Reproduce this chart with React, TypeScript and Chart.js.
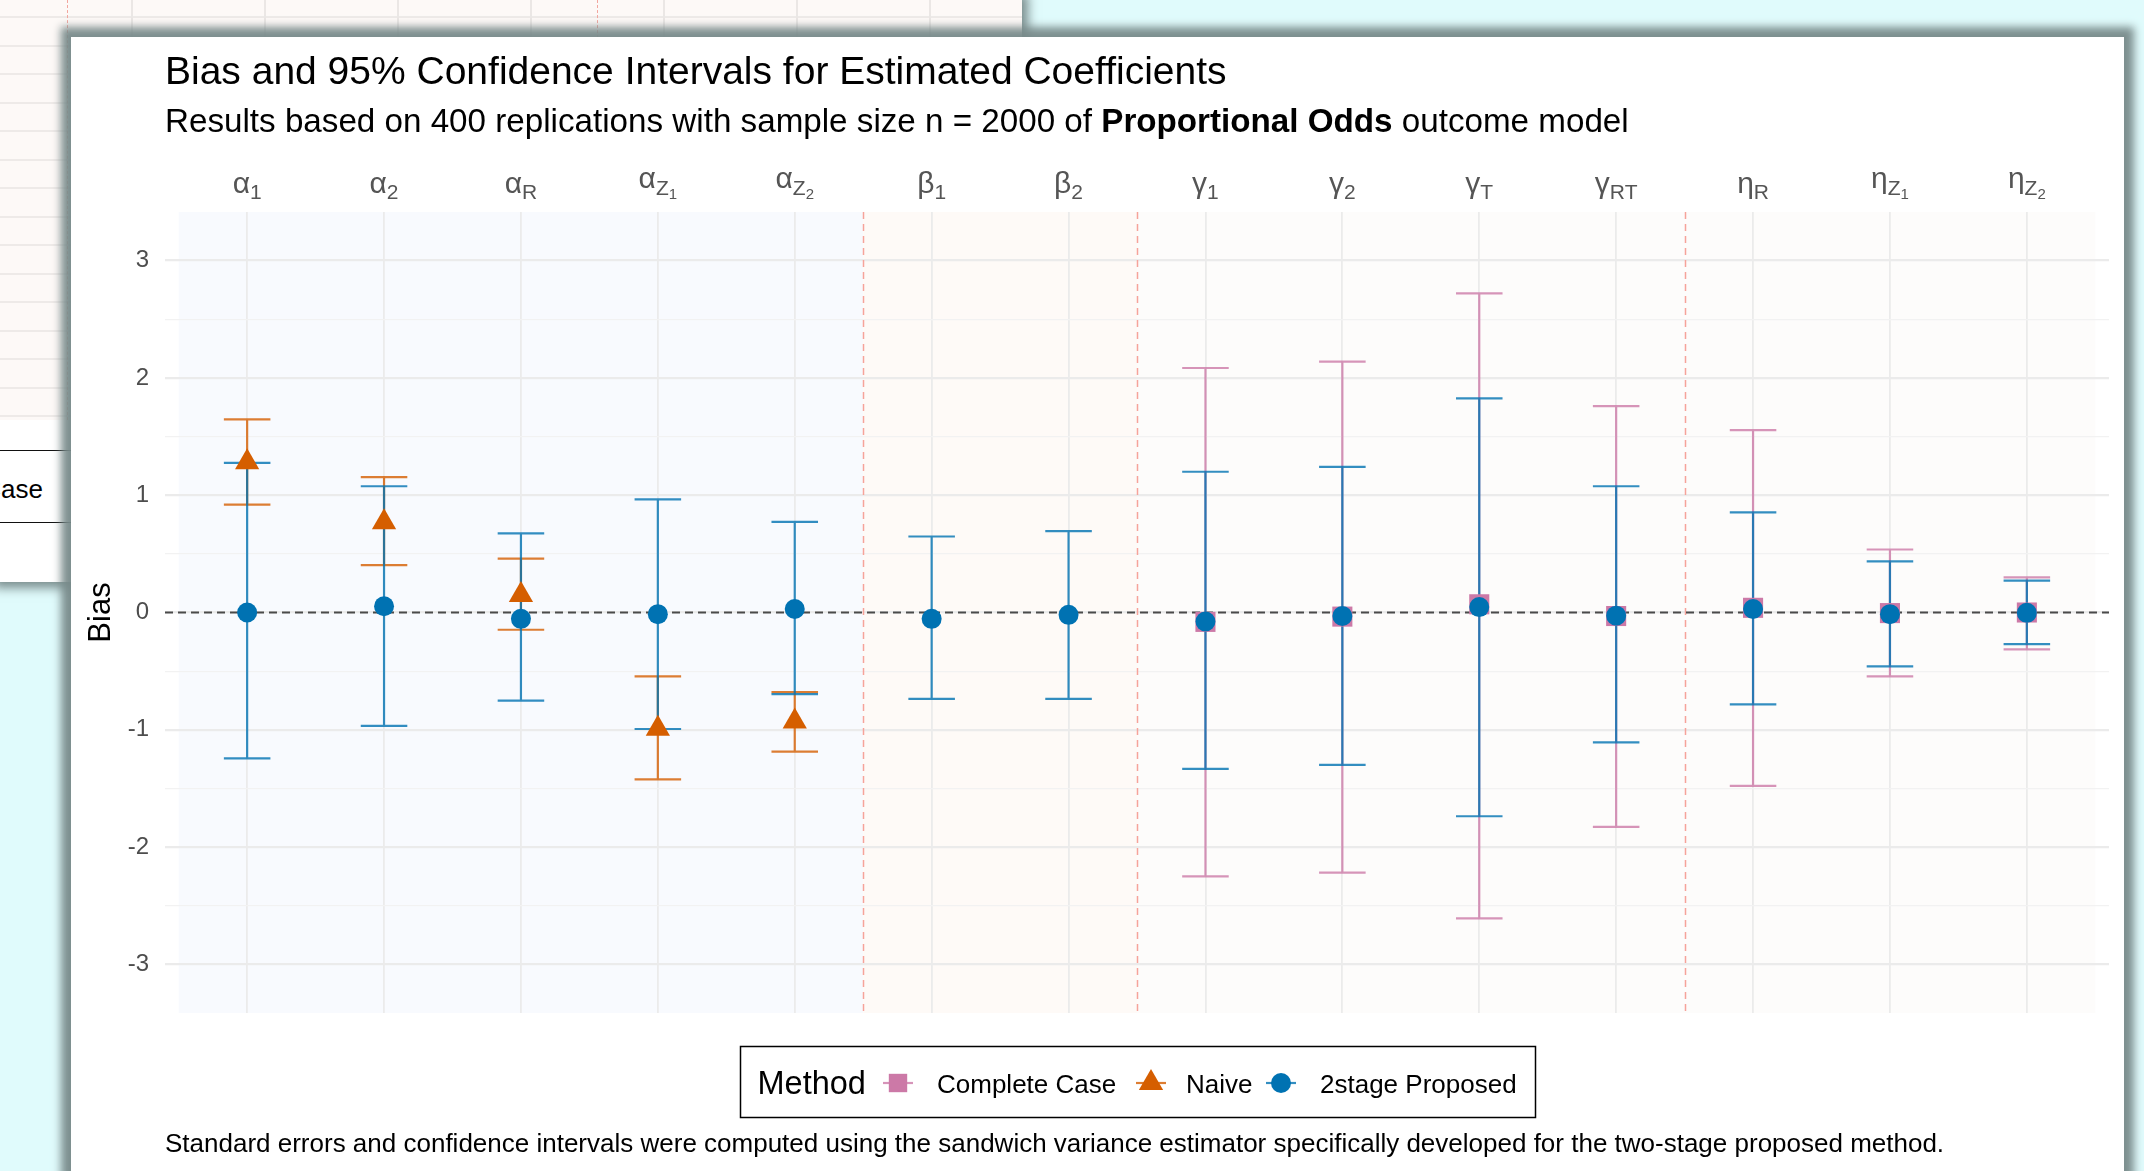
import React, { useEffect, useRef } from 'react';
import { Chart, registerables } from 'chart.js';

Chart.register(...registerables);

const FONT = '"Liberation Sans", Arial, Helvetica, sans-serif';

// ---------------- data ----------------
const labelMain = ['α', 'α', 'α', 'α', 'α', 'β', 'β', 'γ', 'γ', 'γ', 'γ', 'η', 'η', 'η'];
const labelSub = ['1', '2', 'R', 'Z', 'Z', '1', '2', '1', '2', 'T', 'RT', 'R', 'Z', 'Z'];
const labelSubSub = ['', '', '', '1', '2', '', '', '', '', '', '', '', '1', '2'];

const methodNames = ['Complete Case', 'Naive', '2stage Proposed'];

const ccEst = [null, null, null, null, null, null, null, -0.08, -0.035, 0.07, -0.03, 0.04, -0.005, 0.0];
const ccLow = [null, null, null, null, null, null, null, -2.249, -2.217, -2.608, -1.828, -1.478, -0.545, -0.315];
const ccHigh = [null, null, null, null, null, null, null, 2.084, 2.139, 2.72, 1.76, 1.555, 0.537, 0.3];

const naiveEst = [1.28, 0.77, 0.15, -0.99, -0.93, null, null, null, null, null, null, null, null, null];
const naiveLow = [0.919, 0.403, -0.147, -1.422, -1.186, null, null, null, null, null, null, null, null, null];
const naiveHigh = [1.646, 1.154, 0.459, -0.545, -0.678, null, null, null, null, null, null, null, null, null];

const propEst = [0.0, 0.053, -0.054, -0.014, 0.03, -0.054, -0.02, -0.077, -0.03, 0.046, -0.027, 0.03, -0.014, -0.003];
const propLow = [-1.243, -0.967, -0.751, -0.993, -0.695, -0.737, -0.737, -1.333, -1.299, -1.737, -1.107, -0.784, -0.459, -0.269];
const propHigh = [1.275, 1.076, 0.674, 0.965, 0.772, 0.648, 0.694, 1.2, 1.242, 1.826, 1.076, 0.854, 0.436, 0.272];

const yTickValues = [-3, -2.5, -2, -1.5, -1, -0.5, 0, 0.5, 1, 1.5, 2, 2.5, 3];
const yLimits = [-3.414, 3.414];
const groupStarts = [0.5, 5.5, 7.5];
const groupEnds = [5.5, 7.5, 14.5];
const separators = [5.5, 7.5, 11.5];
const refValue = 0;
const capWidth = 0.34;

const titleText = 'Bias and 95% Confidence Intervals for Estimated Coefficients';
const subtitleParts = ['Results based on 400 replications with sample size n = 2000 of ', 'Proportional Odds', ' outcome model'];
const subtitleBold = [false, true, false];
const captionText =
  'Standard errors and confidence intervals were computed using the sandwich variance estimator specifically developed for the two-stage proposed method.';
const yTitle = 'Bias';
const legendTitle = 'Method';

// ---------------- styles ----------------
const groupFills = ['rgba(60,120,225,0.035)', 'rgba(240,125,60,0.04)', 'rgba(190,160,120,0.03)'];
const methodStyle = [
  { point: 'rect', radius: 14.2, fill: '#cc79a7', bar: 'rgba(204,121,167,0.8)' },
  { point: 'triangle', radius: 14, fill: '#d55e00', bar: 'rgba(213,94,0,0.8)' },
  { point: 'circle', radius: 10, fill: '#0072b2', bar: 'rgba(0,114,178,0.8)' },
];
const series = [
  { est: ccEst, low: ccLow, high: ccHigh },
  { est: naiveEst, low: naiveLow, high: naiveHigh },
  { est: propEst, low: propLow, high: propHigh },
];

const drawMarker = (ctx: CanvasRenderingContext2D, kind: string, cx: number, cy: number, r: number, color: string) => {
  ctx.fillStyle = color;
  ctx.beginPath();
  if (kind === 'rect') {
    const s = r * Math.SQRT1_2;
    ctx.rect(cx - s, cy - s, 2 * s, 2 * s);
  } else if (kind === 'triangle') {
    ctx.moveTo(cx, cy - r);
    ctx.lineTo(cx + r * Math.sin((2 * Math.PI) / 3), cy + r / 2);
    ctx.lineTo(cx - r * Math.sin((2 * Math.PI) / 3), cy + r / 2);
    ctx.closePath();
  } else {
    ctx.arc(cx, cy, r, 0, Math.PI * 2);
  }
  ctx.fill();
};

const overlayPlugin = {
  id: 'overlay',
  beforeDraw(chart: any) {
    const { ctx, chartArea: a, scales } = chart;
    const x = scales.x;
    ctx.save();
    groupStarts.forEach((s, i) => {
      const x0 = x.getPixelForValue(s);
      const x1 = x.getPixelForValue(groupEnds[i]);
      ctx.fillStyle = groupFills[i];
      ctx.fillRect(x0, a.top, x1 - x0, a.bottom - a.top);
    });
    ctx.restore();
  },
  beforeDatasetsDraw(chart: any) {
    const { ctx, chartArea: a, scales } = chart;
    const x = scales.x;
    const y = scales.y;
    ctx.save();
    ctx.strokeStyle = '#f6a39a';
    ctx.lineWidth = 1.5;
    ctx.setLineDash([7, 5]);
    separators.forEach((s) => {
      const px = Math.round(x.getPixelForValue(s)) + 0.5;
      ctx.beginPath();
      ctx.moveTo(px, a.top);
      ctx.lineTo(px, a.bottom);
      ctx.stroke();
    });
    ctx.strokeStyle = '#4a4a4a';
    ctx.lineWidth = 2;
    ctx.setLineDash([8, 5]);
    const pr = y.getPixelForValue(refValue);
    ctx.beginPath();
    ctx.moveTo(a.left, pr);
    ctx.lineTo(a.right, pr);
    ctx.stroke();
    ctx.setLineDash([]);
    const half = x.getPixelForValue(1 + capWidth / 2) - x.getPixelForValue(1);
    series.forEach((s, m) => {
      ctx.strokeStyle = methodStyle[m].bar;
      ctx.lineWidth = 2.2;
      s.low.forEach((lo, i) => {
        const hi = s.high[i];
        if (lo == null || hi == null) return;
        const px = x.getPixelForValue(i + 1);
        const pl = y.getPixelForValue(lo);
        const ph = y.getPixelForValue(hi);
        ctx.beginPath();
        ctx.moveTo(px - half, pl);
        ctx.lineTo(px + half, pl);
        ctx.moveTo(px, pl);
        ctx.lineTo(px, ph);
        ctx.moveTo(px - half, ph);
        ctx.lineTo(px + half, ph);
        ctx.stroke();
      });
    });
    ctx.restore();
  },
  afterDraw(chart: any) {
    const { ctx, chartArea: a, scales } = chart;
    const x = scales.x;
    ctx.save();
    ctx.textAlign = 'left';
    ctx.textBaseline = 'alphabetic';
    ctx.fillStyle = '#000';
    // title
    ctx.font = `39px ${FONT}`;
    ctx.fillText(titleText, a.left, 46.5);
    // subtitle
    let sx = a.left;
    subtitleParts.forEach((t, i) => {
      ctx.font = `${subtitleBold[i] ? 'bold ' : ''}33.2px ${FONT}`;
      ctx.fillText(t, sx, 95);
      sx += ctx.measureText(t).width;
    });
    // x labels (top)
    ctx.fillStyle = '#555555';
    labelMain.forEach((m, i) => {
      const sub = labelSub[i];
      const ss = labelSubSub[i];
      ctx.font = `30px ${FONT}`;
      const w0 = ctx.measureText(m).width;
      ctx.font = `21px ${FONT}`;
      const w1 = ctx.measureText(sub).width;
      ctx.font = `15px ${FONT}`;
      const w2 = ss ? ctx.measureText(ss).width : 0;
      const cx = x.getPixelForValue(i + 1);
      let px = cx - (w0 + w1 + w2) / 2;
      const base0 = ss ? 150.5 : 156;
      const base1 = ss ? 158 : 162;
      ctx.font = `30px ${FONT}`;
      ctx.fillText(m, px, base0);
      px += w0;
      ctx.font = `21px ${FONT}`;
      ctx.fillText(sub, px, base1);
      px += w1;
      if (ss) {
        ctx.font = `15px ${FONT}`;
        ctx.fillText(ss, px, 162);
      }
    });
    // legend
    ctx.fillStyle = '#000';
    ctx.strokeStyle = '#000';
    ctx.lineWidth = 1.5;
    ctx.strokeRect(669.5, 1009.5, 795, 71);
    ctx.font = `32.5px ${FONT}`;
    ctx.fillText(legendTitle, 686.5, 1057);
    const glyphX = [827, 1080, 1210];
    const textX = [866, 1115, 1249];
    const gy = 1046;
    methodNames.forEach((name, m) => {
      const st = methodStyle[m];
      ctx.strokeStyle = st.bar;
      ctx.lineWidth = 2.2;
      ctx.beginPath();
      ctx.moveTo(glyphX[m] - 15, gy);
      ctx.lineTo(glyphX[m] + 15, gy);
      ctx.stroke();
      drawMarker(ctx, st.point, glyphX[m], gy, st.point === 'rect' ? 13 : st.radius, st.fill);
      ctx.fillStyle = '#000';
      ctx.font = `26px ${FONT}`;
      ctx.fillText(name, textX[m], 1055.5);
    });
    // caption
    ctx.font = `26px ${FONT}`;
    ctx.fillText(captionText, a.left, 1115);
    ctx.restore();
  },
};

export default function App() {
  const ref = useRef<HTMLCanvasElement>(null);

  useEffect(() => {
    if (!ref.current) return;
    const datasets = series.map((s, m) => ({
      label: methodNames[m],
      data: s.est
        .map((v, i) => (v == null ? null : { x: i + 1, y: v }))
        .filter((p) => p !== null),
      pointStyle: methodStyle[m].point,
      pointRadius: methodStyle[m].radius,
      pointBackgroundColor: methodStyle[m].fill,
      pointBorderWidth: 0,
      showLine: false,
      order: 3 - m,
    }));
    const chart = new Chart(ref.current, {
      type: 'scatter',
      data: { datasets } as any,
      options: {
        animation: false,
        responsive: false,
        events: [],
        layout: { padding: { top: 175, left: 0, right: 15, bottom: 158 }, autoPadding: false },
        plugins: {
          legend: { display: false },
          tooltip: { enabled: false },
          title: { display: false },
        },
        scales: {
          x: {
            type: 'linear',
            position: 'top',
            min: 0.4,
            max: 14.6,
            afterBuildTicks: (s: any) => {
              s.ticks = labelMain.map((_, i) => ({ value: i + 1 }));
            },
            afterFit: (s: any) => {
              s.height = 0;
            },
            ticks: { display: false },
            grid: { color: '#ebebeb', lineWidth: 1.8, drawTicks: false },
            border: { display: false },
          },
          y: {
            type: 'linear',
            min: yLimits[0],
            max: yLimits[1],
            afterBuildTicks: (s: any) => {
              s.ticks = yTickValues.map((v) => ({ value: v }));
            },
            afterFit: (s: any) => {
              s.width = 94;
            },
            ticks: {
              callback: (v: any) => (Number.isInteger(v) ? String(v) : ''),
              font: { family: FONT, size: 24 },
              color: '#4d4d4d',
              padding: 16,
            },
            grid: {
              color: (c: any) => (c.tick && Number.isInteger(c.tick.value) ? '#ebebeb' : '#f2f2f2'),
              lineWidth: (c: any) => (c.tick && Number.isInteger(c.tick.value) ? 2.2 : 1.2),
              drawTicks: false,
            },
            border: { display: false },
            title: {
              display: true,
              text: yTitle,
              font: { family: FONT, size: 31 },
              color: '#000',
              padding: { top: 12, bottom: 0 },
            },
          },
        },
      } as any,
      plugins: [overlayPlugin as any],
    });
    return () => chart.destroy();
  }, []);

  return (
    <div
      style={{
        position: 'fixed',
        left: 0,
        top: 0,
        width: 2144,
        height: 1171,
        background: '#e0fbfc',
        overflow: 'hidden',
        fontFamily: FONT,
      }}
    >
      {/* window behind */}
      <div
        style={{
          position: 'absolute',
          left: 0,
          top: 0,
          width: 1022,
          height: 582,
          background: '#fdf9f7',
          boxShadow: '0 0 10px 6px rgba(105,122,122,0.85)',
          overflow: 'hidden',
        }}
      >
        <div
          style={{
            position: 'absolute',
            left: 0,
            top: 0,
            width: 1022,
            height: 420,
            backgroundImage:
              'repeating-linear-gradient(90deg, transparent 0px, transparent 131px, #ebe7e5 131px, #ebe7e5 133px, transparent 133px, transparent 132.6px), repeating-linear-gradient(180deg, transparent 0px, transparent 16px, #eeeae8 16px, #eeeae8 18px, transparent 18px, transparent 28.5px)',
          }}
        />
        <div style={{ position: 'absolute', left: 67, top: 0, height: 420, borderLeft: '1.5px dashed #f2a69e' }} />
        <div style={{ position: 'absolute', left: 597, top: 0, height: 420, borderLeft: '1.5px dashed #f2a69e' }} />
        <div style={{ position: 'absolute', left: 0, top: 420, width: 1022, height: 162, background: '#fff' }} />
        <div style={{ position: 'absolute', left: 0, top: 450, width: 1022, borderTop: '1.5px solid #111' }} />
        <div style={{ position: 'absolute', left: 0, top: 522, width: 1022, borderTop: '1.5px solid #111' }} />
        <div
          style={{
            position: 'absolute',
            right: 979,
            top: 472,
            fontSize: 26,
            lineHeight: '34px',
            color: '#000',
            whiteSpace: 'nowrap',
          }}
        >
          Complete Case
        </div>
      </div>
      {/* main window */}
      <div
        style={{
          position: 'absolute',
          left: 71,
          top: 37,
          width: 2053,
          height: 1134,
          background: '#ffffff',
          boxShadow: '0 0 8px 10px rgba(120,138,138,0.95)',
        }}
      >
        <canvas ref={ref} width={2053} height={1134} style={{ display: 'block', width: 2053, height: 1134 }} />
      </div>
    </div>
  );
}
